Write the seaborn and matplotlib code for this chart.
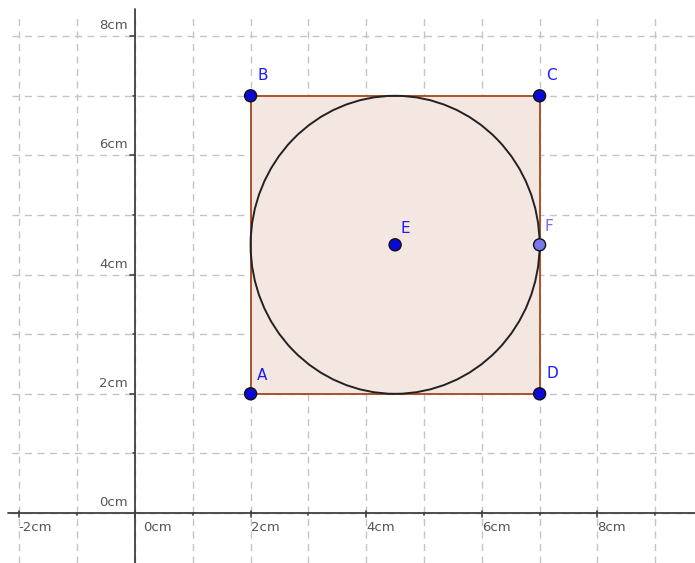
import numpy as np
import pandas as pd
import seaborn as sns
import matplotlib.pyplot as plt
from matplotlib.patches import Polygon, Circle

# points of the construction
names = ["A", "B", "C", "D", "E", "F"]
px = [2, 2, 7, 7, 4.5, 7]
py = [2, 7, 7, 2, 4.5, 4.5]
kind = ["free", "free", "free", "free", "free", "onpath"]

# square ABCD and incircle
square_x = [2, 2, 7, 7]
square_y = [2, 7, 7, 2]
circle_center = (4.5, 4.5)
circle_radius = 2.5

# axis ticks
x_labels = [-2, 0, 2, 4, 6, 8]
y_labels = [0, 2, 4, 6, 8]
x_grid = list(range(-2, 10))
y_grid = list(range(0, 9))

df = pd.DataFrame({"name": names, "x": px, "y": py, "kind": kind})

sns.set_style("white")
fig = plt.figure(figsize=(6.95, 5.63), dpi=100)
ax = fig.add_axes([0, 0, 1, 1])

ux, uy = 57.8, 59.6   # pixels per unit
ox, oy = 135, 513     # origin pixel
xmin, xmax = -ox / ux, (695 - ox) / ux
ymin, ymax = -(563 - oy) / uy, oy / uy
ax.set_xlim(xmin, xmax)
ax.set_ylim(ymin, ymax)
for s in ax.spines.values():
    s.set_visible(False)
ax.set_xticks([])
ax.set_yticks([])

# dashed grid
gx0 = (12 - ox) / ux
gy1 = (oy - 13) / uy
ax.vlines(x_grid, ymin, gy1, colors="#c4c4c4", lw=1, linestyles=(0, (5, 4)), zorder=0)
ax.hlines(y_grid, gx0, xmax, colors="#c4c4c4", lw=1, linestyles=(0, (5, 4)), zorder=0)

# axes
ax.axhline(0, xmin=8 / 695, color="#404040", lw=1.3, zorder=1)
ax.plot([0, 0], [ymin, (oy - 9) / uy], color="#404040", lw=1.3, zorder=1)
tk = 4 / uy
for x in x_grid:
    big = x % 2 == 0
    ax.plot([x, x], [-tk if big else -tk * 0.5, tk * 0.4 if big else 0],
            color="#404040", lw=1.2, zorder=1)
tkx = 5 / ux
for y in y_grid[1:]:
    big = y % 2 == 0
    ax.plot([-tkx if big else -tkx * 0.5, 0], [y, y], color="#404040", lw=1.2, zorder=1)

lab = dict(fontsize=9.5, color="#555555", family="DejaVu Sans")
for x in x_labels:
    ax.text(x - (1.5 / ux if x < 0 else 0) + (8 / ux if x == 0 else 0), -8 / uy,
            f"{x}cm", ha="left", va="top", **lab)
for y in y_labels:
    ax.text(-7 / ux, y + 4 / uy, f"{y}cm", ha="right", va="bottom", **lab)

# square and circle
ax.add_patch(Polygon(list(zip(square_x, square_y)), closed=True,
                     facecolor="#f4e6e1", edgecolor="#a8522c", lw=1.4, zorder=2))
ax.add_patch(Circle(circle_center, circle_radius, fill=False,
                    edgecolor="#222222", lw=1.4, zorder=3))

sns.scatterplot(data=df, x="x", y="y", hue="kind",
                palette={"free": "#0a0ad8", "onpath": "#7777ee"},
                s=75, edgecolor="#111111", linewidth=1.0, legend=False,
                zorder=5, ax=ax)

offsets = {"A": (13, 18), "B": (14, 20), "C": (14, 20), "D": (14, 20),
           "E": (12, 16), "F": (12, 18)}
for n, x, y, k in zip(names, px, py, kind):
    dx, dy = offsets[n]
    ax.text(x + (dx - 7) / ux, y + dy / uy, n, fontsize=11,
            color="#1a1aff" if k == "free" else "#6f6fff",
            ha="left", va="center", zorder=6)

ax.set_xlabel("")
ax.set_ylabel("")
fig.savefig("out.png", dpi=100)
